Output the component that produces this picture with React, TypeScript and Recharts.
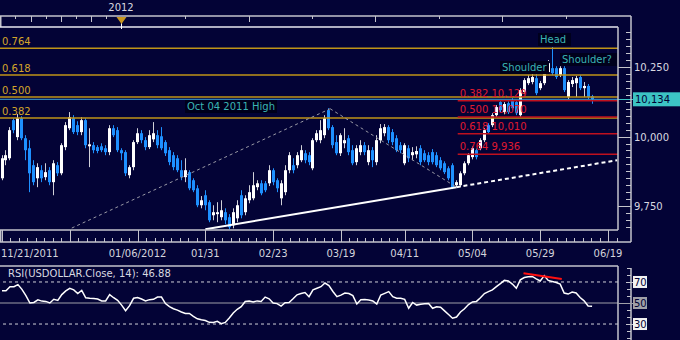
import React from 'react';
import { ComposedChart, Bar, Line, XAxis, YAxis, ReferenceLine } from 'recharts';

// daily candles, USDOLLAR 11/21/2011 - 06/14/2012
const openP = [
  9850, 9915, 9922, 10059, 9998, 10066, 9994, 9958, 9897, 9850,
  9879, 9854, 9879, 9836, 9897, 9868, 9962, 10030, 10066, 10041,
  10016, 10059, 9965, 9969, 9962, 9965, 9958, 9944, 10030, 10023,
  9951, 9944, 9861, 9890, 9980, 10012, 9987, 9962, 9990, 10005,
  10001, 9980, 9951, 9933, 9922, 9879, 9854, 9872, 9843, 9814,
  9753, 9789, 9764, 9717, 9721, 9710, 9728, 9710, 9681, 9706,
  9789, 9728, 9771, 9778, 9818, 9832, 9832, 9832, 9879, 9843,
  9778, 9800, 9879, 9897, 9897, 9915, 9940, 9933, 9886, 9987,
  9987, 10005, 10095, 10034, 9980, 9940, 9976, 9994, 9951, 9908,
  9944, 9969, 9908, 9951, 9908, 9987, 10012, 10034, 10016, 9994,
  9969, 9904, 9958, 9933, 9936, 9958, 9940, 9933, 9944, 9933,
  9915, 9904, 9886, 9897, 9825, 9825, 9868, 9904, 9926, 9951,
  9958, 9987, 10041, 10041, 10077, 10124, 10088, 10120, 10131, 10124,
  10077, 10160, 10192, 10196, 10210, 10174, 10192, 10232, 10246, 10246,
  10221, 10246, 10142, 10189, 10192, 10214, 10174, 10182, 10145,
];
const highP = [
  9933, 9951, 10034, 10066, 10081, 10073, 10005, 9987, 9915, 9904,
  9897, 9904, 9890, 9915, 9908, 9976, 10052, 10088, 10077, 10055,
  10070, 10066, 10030, 9980, 9969, 9976, 9969, 10041, 10041, 10034,
  9958, 9951, 9897, 9987, 10030, 10023, 9998, 10023, 10052, 10023,
  10034, 9987, 9962, 9944, 9933, 9915, 9922, 9879, 9850, 9825,
  9786, 9807, 9771, 9753, 9764, 9771, 9742, 9721, 9742, 9771,
  9807, 9789, 9825, 9872, 9843, 9843, 9840, 9897, 9886, 9850,
  9843, 9897, 9944, 9922, 9944, 9969, 9951, 9944, 9994, 10023,
  10059, 10077, 10102, 10041, 10005, 10012, 10030, 10005, 9969, 9969,
  9987, 9980, 9969, 9962, 10005, 10045, 10045, 10041, 10027, 10005,
  9980, 9976, 9969, 9962, 9965, 9969, 9951, 9944, 9955, 9944,
  9926, 9911, 9893, 9904, 9843, 9875, 9911, 9940, 9965, 9958,
  9994, 10030, 10048, 10084, 10113, 10131, 10124, 10127, 10138, 10131,
  10174, 10210, 10221, 10228, 10225, 10200, 10243, 10275, 10322, 10253,
  10253, 10253, 10203, 10214, 10218, 10221, 10196, 10189, 10150,
];
const lowP = [
  9843, 9897, 9915, 10012, 9987, 9987, 9915, 9800, 9825, 9818,
  9836, 9843, 9825, 9789, 9858, 9861, 9951, 10023, 10009, 10005,
  10005, 9958, 9890, 9940, 9940, 9944, 9933, 9933, 9998, 9944,
  9915, 9858, 9850, 9879, 9973, 9976, 9951, 9955, 9980, 9958,
  9951, 9930, 9897, 9879, 9872, 9843, 9836, 9807, 9800, 9746,
  9742, 9735, 9692, 9699, 9692, 9699, 9685, 9667, 9670, 9692,
  9706, 9717, 9760, 9771, 9807, 9789, 9800, 9822, 9825, 9800,
  9753, 9789, 9868, 9868, 9886, 9908, 9904, 9897, 9879, 9980,
  9976, 9994, 10023, 9958, 9933, 9930, 9958, 9933, 9897, 9897,
  9933, 9933, 9897, 9890, 9897, 9976, 10001, 9976, 9969, 9944,
  9940, 9897, 9908, 9915, 9922, 9897, 9908, 9897, 9900, 9890,
  9879, 9865, 9843, 9811, 9818, 9818, 9861, 9897, 9918, 9918,
  9951, 9980, 10009, 10034, 10070, 10088, 10080, 10081, 10095, 10077,
  10070, 10152, 10185, 10188, 10149, 10167, 10185, 10228, 10221, 10207,
  10214, 10160, 10135, 10178, 10142, 10167, 10142, 10135, 10118,
];
const closeP = [
  9922, 9933, 10023, 10023, 10066, 9994, 9951, 9868, 9836, 9890,
  9850, 9872, 9836, 9904, 9868, 9969, 10041, 10070, 10016, 10016,
  10059, 9969, 9972, 9951, 9948, 9951, 9944, 10030, 10005, 9951,
  9940, 9868, 9890, 9980, 10012, 9987, 9962, 10005, 10012, 9969,
  9958, 9940, 9908, 9890, 9879, 9854, 9879, 9814, 9807, 9753,
  9771, 9753, 9699, 9728, 9728, 9735, 9699, 9674, 9728, 9753,
  9717, 9778, 9800, 9825, 9832, 9796, 9807, 9879, 9836, 9814,
  9832, 9879, 9933, 9879, 9933, 9951, 9915, 9908, 9987, 10012,
  10023, 10066, 10030, 9969, 9940, 10005, 9987, 9944, 9904, 9958,
  9969, 9944, 9951, 9915, 9987, 10030, 10034, 9987, 9980, 9951,
  9951, 9969, 9922, 9944, 9948, 9908, 9915, 9908, 9908, 9897,
  9886, 9872, 9850, 9818, 9836, 9868, 9904, 9933, 9958, 9926,
  9987, 10023, 10016, 10077, 10106, 10095, 10117, 10088, 10102, 10084,
  10167, 10203, 10210, 10214, 10156, 10192, 10232, 10264, 10228, 10214,
  10246, 10167, 10196, 10203, 10210, 10174, 10182, 10142, 10134,
];
const rsi14 = [
  61.7, 61.7, 65.5, 65.5, 67.5, 63, 57, 50, 50.5, 53,
  51.8, 51.5, 50, 53.5, 52.5, 58, 61.5, 64, 62.5, 59,
  62, 55, 54.6, 54.3, 53.8, 52, 52, 58, 55, 52.5,
  48, 42.7, 47.5, 54.5, 55.2, 53.8, 52, 53.2, 53.5, 55.6,
  55.6, 49.5, 46.5, 44.5, 43.2, 41.5, 40, 40, 37.3, 35,
  34, 33.3, 31.6, 31.5, 32.5, 30.3, 31.5, 35.7, 40.5, 44,
  46.5, 51.5, 51.8, 51, 52, 51.5, 55.6, 54, 50, 49.4,
  47, 50.2, 50.5, 54, 57.8, 59, 60, 56, 62.5, 64,
  65.5, 69, 66.5, 61, 56, 57.5, 59.4, 59, 57, 49,
  53, 53.3, 52.8, 52, 49, 57.6, 59.2, 60.8, 56, 54.6,
  54.6, 53.5, 45, 50.5, 48, 48.8, 49.2, 49.5, 45, 46.5,
  46, 42.5, 39, 35.5, 36.7, 41.5, 44.5, 48.5, 51, 51.5,
  55, 59, 60.8, 62.5, 65.5, 68.5, 71.5, 71, 68, 64,
  72, 74.2, 75, 75.3, 73, 71, 76, 71.5, 70.5, 69.5,
  68, 59.5, 58.5, 60.5, 59.5, 55.2, 52, 47.2, 46.88,
];

const dateTicks = [0, 17, 34, 51, 68, 85, 101, 118, 135, 152];
const dateLabels = ['11/21/2011', '', '01/06/2012', '01/31', '02/23', '03/19', '04/11', '05/04', '05/29', '06/19'];

const priceLabels = [9750, 10000, 10250];
const lastPrice = 10134;

const fibNames = ['0.764', '0.618', '0.500', '0.382'];
const fibValues = [10318, 10221, 10142, 10067];

const retraceNames = ['0.382 10,129', '0.500 10,070', '0.618 10,010', '0.764 9,936'];
const retraceValues = [10129, 10070, 10010, 9936];

const rsiLevels = [30, 50, 70];

const supportLine = [{ x: 51, y: 9667 }, { x: 114, y: 9818 }];
const supportExt = [{ x: 114, y: 9818 }, { x: 154.3, y: 9915 }];
const wedgeUp = [{ x: 17.5, y: 9671 }, { x: 82.3, y: 10100 }];
const wedgeDown = [{ x: 82.3, y: 10100 }, { x: 114, y: 9818 }];
const rsiDivergence = [{ x: 130.8, y: 78.3 }, { x: 140.4, y: 72.9 }];

const candles = openP.map((o, i) => ({
  i,
  o,
  h: highP[i],
  l: lowP[i],
  c: closeP[i],
  range: [lowP[i], highP[i]],
  rsi: rsi14[i],
}));

const X_DOMAIN: [number, number] = [-0.5, 154.5];
const FONT = 'DejaVu Sans';
const BG = '#030336';
const FRAME = '#c4c4cc';

// minor ticks for the axis strips
const minorDates: number[] = [];
for (let k = 0; k < dateTicks.length; k++) {
  const a = dateTicks[k];
  const b = k < dateTicks.length - 1 ? dateTicks[k + 1] : a + 17;
  for (let j = 1; j < 8; j++) {
    const v = a + (j * (b - a)) / 8;
    if (v <= 154.5) minorDates.push(v);
  }
}
const xTicks = [...dateTicks, ...minorDates];

const yTicks: number[] = [];
for (let v = 9675; v <= 10375; v += 25) yTicks.push(v);
yTicks.push(lastPrice);

const rsiTicks = [16.67, 23.33, 30, 36.67, 43.33, 50, 56.67, 63.33, 70, 76.67, 83.33];

const Candle = (props: any) => {
  const { x, y, width, height, payload } = props;
  if (!payload || height == null || isNaN(y)) return <g />;
  const { o, h, l, c } = payload;
  const top = Math.min(y, y + height);
  const span = Math.abs(height);
  const k = span / (h - l);
  const yO = top + (h - o) * k;
  const yC = top + (h - c) * k;
  const up = c >= o;
  const cx = Math.round(x + width / 2) + 0.5;
  const color = up ? '#ffffff' : '#1e90ff';
  const bodyTop = Math.min(yO, yC);
  const bodyH = Math.max(1, Math.abs(yO - yC));
  return (
    <g>
      <line x1={cx} x2={cx} y1={top} y2={top + span} stroke={up ? '#d0d0d8' : color} strokeWidth={1} />
      <rect x={cx - 1.5} y={bodyTop} width={3} height={bodyH} fill={color} />
    </g>
  );
};

const DateTick = (props: any) => {
  const { x, payload } = props;
  const idx = dateTicks.indexOf(payload.value);
  const px = Math.round(x) + 0.5;
  if (idx < 0) {
    return <line x1={px} x2={px} y1={238} y2={242} stroke={FRAME} />;
  }
  const first = idx === 0;
  return (
    <g>
      <line x1={px} x2={px} y1={230} y2={242} stroke={FRAME} />
      <text x={first ? x - 1 : x} y={257} textAnchor={first ? 'start' : 'middle'} fill="#d4d4dc" fontSize={10} fontFamily={FONT}>
        {dateLabels[idx]}
      </text>
    </g>
  );
};

const PriceTick = (props: any) => {
  const { y, payload } = props;
  const v = payload.value;
  const py = Math.round(y) + 0.5;
  if (v === lastPrice) {
    return (
      <g>
        <line x1={618} x2={633} y1={py} y2={py} stroke="#3cc4c4" />
        <rect x={633} y={y - 7} width={47} height={14} fill="#3cc4c4" />
        <text x={635} y={y + 4} fill="#000033" fontSize={10} fontFamily={FONT}>10,134</text>
      </g>
    );
  }
  if (priceLabels.includes(v)) {
    return (
      <g>
        <line x1={618} x2={631} y1={py} y2={py} stroke={FRAME} />
        <text x={634} y={y + 4} fill="#d8d8e0" fontSize={10} fontFamily={FONT}>{v.toLocaleString('en-US')}</text>
      </g>
    );
  }
  return <line x1={626} x2={631} y1={py} y2={py} stroke={FRAME} />;
};

const RsiTick = (props: any) => {
  const { y, payload } = props;
  const v = payload.value;
  const py = Math.round(y) + 0.5;
  if (rsiLevels.includes(v)) {
    return (
      <g>
        <line x1={626} x2={633} y1={py} y2={py} stroke={FRAME} />
        <rect x={633} y={y - 6} width={14} height={12} fill={v === 50 ? '#a0a0a8' : '#f2f2f2'} />
        <text x={634} y={y + 4} fill="#000033" fontSize={10} fontFamily={FONT}>{v}</text>
      </g>
    );
  }
  return <line x1={627} x2={631} y1={py} y2={py} stroke={FRAME} />;
};

const LineLabel = (props: any) => {
  const { viewBox, text, fill, dy = -3 } = props;
  if (!viewBox) return null;
  return (
    <text x={viewBox.x + 2} y={viewBox.y + dy} fill={fill} fontSize={10} fontFamily={FONT}>
      {text}
    </text>
  );
};

const Tag = ({ x, y, w, text }: { x: number; y: number; w: number; text: string }) => (
  <g>
    <rect x={x} y={y} width={w} height={13} fill="#00001c" />
    <text x={x + 2} y={y + 10} fill="#3ab4b4" fontSize={10} fontFamily={FONT}>{text}</text>
  </g>
);

const topLong = [31, 61, 91, 249, 375, 502];
const topShort = [15, 46, 76, 106, 185, 312, 439, 566];

export default function App() {
  return (
    <div style={{ position: 'absolute', left: 0, top: 0, width: 680, height: 340, background: BG, overflow: 'hidden', fontFamily: FONT }}>
      <div style={{ position: 'absolute', left: 0, top: 0 }}>
        <ComposedChart width={680} height={266} data={candles} margin={{ top: 27, right: 0, bottom: 0, left: 0 }}>
          <XAxis
            dataKey="i"
            type="number"
            domain={X_DOMAIN}
            allowDataOverflow
            ticks={xTicks}
            interval={0}
            height={36}
            tickLine={false}
            axisLine={false}
            tick={<DateTick />}
          />
          <YAxis
            orientation="right"
            type="number"
            width={62}
            domain={[9664, 10394]}
            allowDataOverflow
            ticks={yTicks}
            interval={0}
            tickLine={false}
            axisLine={false}
            tick={<PriceTick />}
          />
          {fibValues.map((v, k) => (
            <ReferenceLine key={`fib-${k}`} y={v} stroke="#c09418" strokeWidth={1.5}
              label={<LineLabel text={fibNames[k]} fill="#d4a52a" dy={-3} />} />
          ))}
          <ReferenceLine y={lastPrice} stroke="#3d9fd6" strokeWidth={1} />
          {retraceValues.map((v, k) => (
            <ReferenceLine key={`ret-${k}`} segment={[{ x: 114.3, y: v }, { x: 154.5, y: v }]} stroke="#c0101e" strokeWidth={1.5}
              label={<LineLabel text={retraceNames[k]} fill="#e01a30" dy={-4} />} />
          ))}
          <ReferenceLine segment={wedgeUp} stroke="#9a9aa6" strokeWidth={1} strokeDasharray="3 3" />
          <ReferenceLine segment={wedgeDown} stroke="#9a9aa6" strokeWidth={1} strokeDasharray="3 3" />
          <Bar dataKey="range" barSize={3} shape={<Candle />} isAnimationActive={false} />
          <ReferenceLine segment={supportLine} stroke="#ffffff" strokeWidth={2} />
          <ReferenceLine segment={supportExt} stroke="#ffffff" strokeWidth={2} strokeDasharray="4 3" />
        </ComposedChart>
      </div>

      <div style={{ position: 'absolute', left: 0, top: 266 }}>
        <ComposedChart width={680} height={74} data={candles} margin={{ top: 0, right: 0, bottom: 0, left: 0 }}>
          <XAxis dataKey="i" type="number" domain={X_DOMAIN} allowDataOverflow hide />
          <YAxis
            orientation="right"
            type="number"
            width={62}
            domain={[14.8, 85.2]}
            allowDataOverflow
            ticks={rsiTicks}
            interval={0}
            tickLine={false}
            axisLine={false}
            tick={<RsiTick />}
          />
          <ReferenceLine y={70} stroke="#d0d0d8" strokeDasharray="3 3" />
          <ReferenceLine y={50} stroke="#a0a0a8" />
          <ReferenceLine y={30} stroke="#d0d0d8" strokeDasharray="3 3" />
          <Line dataKey="rsi" stroke="#ffffff" strokeWidth={1.5} dot={false} isAnimationActive={false} />
          <ReferenceLine segment={rsiDivergence} stroke="#ff1010" strokeWidth={2} />
        </ComposedChart>
      </div>

      <svg width={680} height={340} style={{ position: 'absolute', left: 0, top: 0, pointerEvents: 'none' }}>
        <g stroke={FRAME} strokeWidth={1.5} fill="none">
          <path d="M0 16 H631" />
          <path d="M0.75 16 V27" />
          <path d="M0 27 H618" stroke="#e8e8f0" />
          <path d="M618 27 V230" />
          <path d="M631 16 V242" />
          <path d="M0 230 H618" />
          <path d="M0 242 H631" />
          <path d="M0.75 230 V242" />
          <path d="M0 266 H618" />
          <path d="M618 266 V340" />
          <path d="M631 268 V340" />
        </g>
        <path d="M618 303.5 H633" stroke="#a0a0a8" />
        {topLong.map((x) => (
          <line key={`tl-${x}`} x1={x + 0.5} x2={x + 0.5} y1={16} y2={22} stroke={FRAME} />
        ))}
        {topShort.map((x) => (
          <line key={`ts-${x}`} x1={x + 0.5} x2={x + 0.5} y1={16} y2={19} stroke={FRAME} />
        ))}
        <text x={121} y={11} textAnchor="middle" fill="#d8d8e0" fontSize={10} fontFamily={FONT}>2012</text>
        <line x1={121.5} x2={121.5} y1={22} y2={29} stroke="#ffffff" />
        <path d="M116.5 17 L126.5 17 L121.5 24 Z" fill="#c8961e" />

        <Tag x={185} y={100} w={92} text="Oct 04 2011 High" />
        <Tag x={500} y={61} w={49} text="Shoulder" />
        <Tag x={538} y={33} w={33} text="Head" />
        <Tag x={560} y={53} w={57} text="Shoulder?" />

        <text x={8} y={277} fill="#d8d8e0" fontSize={10} fontFamily={FONT}>RSI(USDOLLAR.Close, 14): 46.88</text>
      </svg>
    </div>
  );
}
